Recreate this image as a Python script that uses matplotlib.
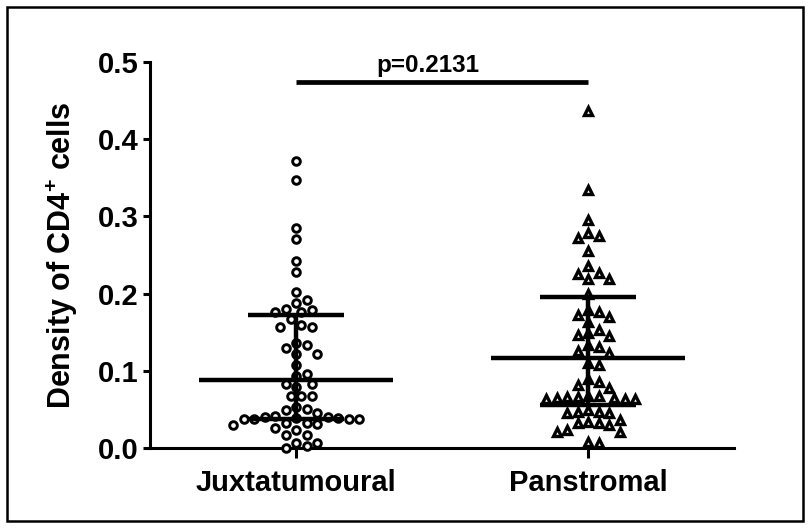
import numpy as np
import matplotlib
matplotlib.use("Agg")
import matplotlib.pyplot as plt
from matplotlib.patches import Rectangle

# ---------------- data ----------------
categories = ["Juxtatumoural", "Panstromal"]

juxta = [0.372, 0.347, 0.285, 0.271, 0.242, 0.228, 0.202, 0.192, 0.188, 0.180,
         0.179, 0.176, 0.176, 0.167, 0.159, 0.157, 0.157, 0.136, 0.133, 0.129,
         0.122, 0.122, 0.107, 0.096, 0.093, 0.083, 0.083, 0.079, 0.067, 0.067,
         0.067, 0.053, 0.050, 0.049, 0.045,
         0.041, 0.040, 0.040, 0.039, 0.039, 0.038, 0.038, 0.038, 0.037,
         0.032, 0.032, 0.031, 0.030, 0.026, 0.023, 0.017, 0.017, 0.006, 0.006,
         0.002, 0.000]

pan = [0.437, 0.334, 0.295, 0.279, 0.274, 0.272, 0.255, 0.236, 0.227, 0.225,
       0.219, 0.219, 0.200, 0.179, 0.176, 0.172, 0.170, 0.163, 0.153, 0.149,
       0.146, 0.145, 0.133, 0.131, 0.126, 0.123, 0.110, 0.107, 0.089, 0.085,
       0.082, 0.078,
       0.068, 0.067, 0.066, 0.066, 0.065, 0.065, 0.064, 0.064, 0.063,
       0.049, 0.047, 0.047, 0.045, 0.045, 0.036, 0.034, 0.032, 0.032, 0.030,
       0.023, 0.021, 0.021, 0.008, 0.006]

medians = [0.088, 0.117]
q1 = [0.038, 0.056]
q3 = [0.172, 0.195]

p_text = "p=0.2131"
p_bar_y = 0.474

yticks = [0.0, 0.1, 0.2, 0.3, 0.4, 0.5]
ytick_labels = ["0.0", "0.1", "0.2", "0.3", "0.4", "0.5"]

# ---------------- styling ----------------
plt.rcParams["font.family"] = ["Liberation Sans", "DejaVu Sans"]
plt.rcParams["font.weight"] = "bold"
plt.rcParams["mathtext.fontset"] = "custom"
plt.rcParams["mathtext.rm"] = "Liberation Sans:bold"
plt.rcParams["mathtext.bf"] = "Liberation Sans:bold"
plt.rcParams["mathtext.default"] = "bf"

W, H, DPI = 810, 528, 100
fig = plt.figure(figsize=(W / DPI, H / DPI), dpi=DPI)

left_px, right_px, bottom_px, top_px = 150, 734, 448, 62
ax = fig.add_axes([left_px / W, (H - bottom_px) / H,
                   (right_px - left_px) / W, (bottom_px - top_px) / H])
ax.set_xlim(-0.5, 1.5)
ax.set_ylim(0, 0.5)

px_per_x = (right_px - left_px) / 2.0
px_per_y = (bottom_px - top_px) / 0.5


def swarm_offsets(values, diam_px=10.5):
    """Greedy beeswarm: horizontal offsets (data units) avoiding overlaps."""
    vals = np.asarray(values, dtype=float)
    order = np.argsort(-vals)
    placed = []  # (x_px, y_px)
    offs = np.zeros(len(vals))
    for i in order:
        y = vals[i] * px_per_y
        cands = [0.0]
        for k in range(1, 30):
            cands += [k * diam_px * 0.5, -k * diam_px * 0.5]
        for c in cands:
            ok = True
            for (px, py) in placed:
                if (px - c) ** 2 + (py - y) ** 2 < (diam_px * 0.98) ** 2:
                    ok = False
                    break
            if ok:
                placed.append((c, y))
                offs[i] = c / px_per_x
                break
    return offs


groups = [juxta, pan]
markers = ["o", "^"]
for gi, (vals, mk) in enumerate(zip(groups, markers)):
    offs = swarm_offsets(vals)
    xs = gi + offs
    if mk == "o":
        ax.plot(xs, vals, linestyle="none", marker="o", ms=5.5, mew=2.1,
                mfc="white", mec="black", zorder=3, clip_on=False)
    else:
        ax.plot(xs, vals, linestyle="none", marker="^", ms=5.8, mew=2.4,
                mfc="white", mec="black", zorder=3, clip_on=False)

lw_bar = 3.2
med_half = 0.333
q_half = 0.165
for gi in range(2):
    ax.plot([gi - med_half, gi + med_half], [medians[gi]] * 2, color="black",
            lw=lw_bar, solid_capstyle="butt", zorder=5)
    ax.plot([gi - q_half, gi + q_half], [q1[gi]] * 2, color="black",
            lw=lw_bar, solid_capstyle="butt", zorder=5)
    ax.plot([gi - q_half, gi + q_half], [q3[gi]] * 2, color="black",
            lw=lw_bar, solid_capstyle="butt", zorder=5)
    ax.plot([gi, gi], [q1[gi], q3[gi]], color="black", lw=lw_bar,
            solid_capstyle="butt", zorder=5)

# significance bar
ax.plot([0, 1], [p_bar_y, p_bar_y], color="black", lw=3.4,
        solid_capstyle="butt", clip_on=False, zorder=5)
ax.text(0.45, p_bar_y + 0.006, p_text, ha="center", va="bottom",
        fontsize=17.5, fontweight="bold")

# axes styling
for s in ["top", "right"]:
    ax.spines[s].set_visible(False)
for s in ["left", "bottom"]:
    ax.spines[s].set_linewidth(2.2)

ax.set_yticks(yticks)
ax.set_yticklabels(ytick_labels, fontsize=21, fontweight="bold")
ax.set_xticks([0, 1])
ax.set_xticklabels(categories, fontsize=21, fontweight="bold")
ax.tick_params(axis="y", direction="out", length=5, width=2.2, pad=3)
ax.tick_params(axis="x", direction="out", length=7, width=2.2, pad=8)

ax.set_ylabel(r"Density of CD4$^{+}$ cells", fontsize=22, fontweight="bold")
ax.yaxis.set_label_coords((80 - left_px) / (right_px - left_px), 0.5)

# outer frame
fig.patches.append(Rectangle((7 / W, 7 / H), (W - 14) / W, (H - 14) / H,
                             transform=fig.transFigure, fill=False,
                             edgecolor="black", lw=1.8))

fig.savefig("out.png", dpi=DPI)
